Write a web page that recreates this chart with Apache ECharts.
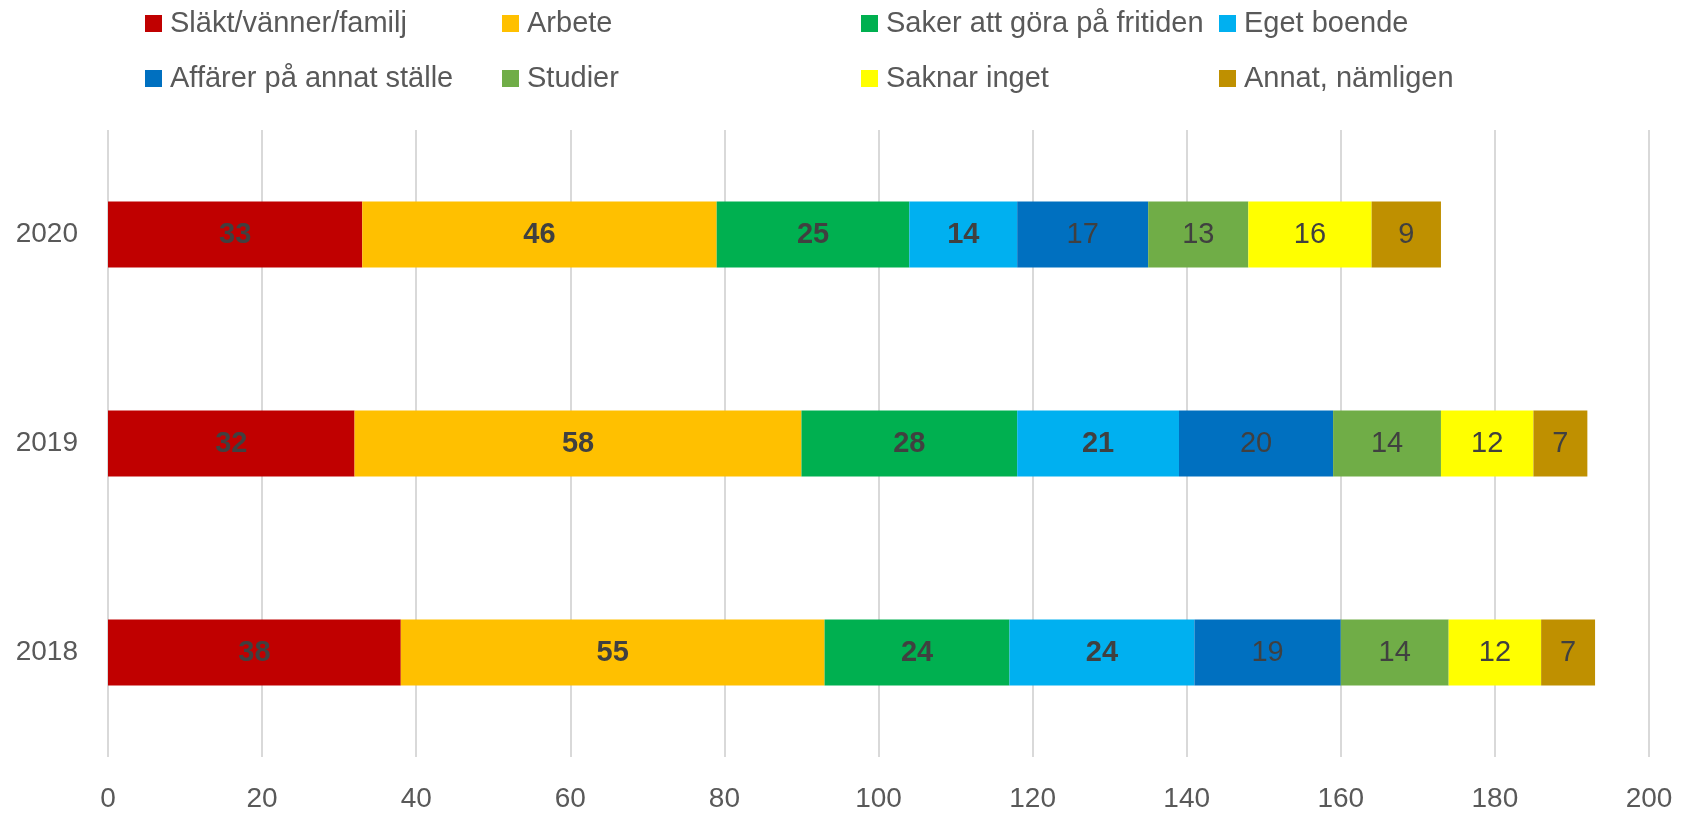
<!DOCTYPE html>
<html>
<head>
<meta charset="utf-8">
<script src="https://cdn.jsdelivr.net/npm/echarts@6/dist/echarts.min.js"></script>
<style>
  html, body { margin: 0; padding: 0; background: #fff; }
  #chart { width: 1682px; height: 813px; }
</style>
</head>
<body>
<div id="chart"></div>
<script>
// kategorier (nerifrån och upp)
const years = ['2018', '2019', '2020'];

// serier: värden för 2018, 2019, 2020
const slakt   = [38, 32, 33];
const arbete  = [55, 58, 46];
const saker   = [24, 28, 25];
const boende  = [24, 21, 14];
const affarer = [19, 20, 17];
const studier = [14, 14, 13];
const saknar  = [12, 12, 16];
const annat   = [7, 7, 9];

const seriesNames = ['Släkt/vänner/familj', 'Arbete', 'Saker att göra på fritiden', 'Eget boende',
  'Affärer på annat ställe', 'Studier', 'Saknar inget', 'Annat, nämligen'];
const seriesValues = [slakt, arbete, saker, boende, affarer, studier, saknar, annat];
const colors = ['#C00000', '#FFC000', '#00B050', '#00B0F0', '#0070C0', '#70AD47', '#FFFF00', '#BF9000'];
const boldLabels = [true, true, true, true, false, false, false, false];

const xTicks = { min: 0, max: 200, interval: 20 };

const FONT = '"Liberation Sans", Arial, sans-serif';

const chart = echarts.init(document.getElementById('chart'));

// en legend per kolumn, två rader var
const legendCols = [
  { left: 145, names: [seriesNames[0], seriesNames[4]] },
  { left: 502, names: [seriesNames[1], seriesNames[5]] },
  { left: 861, names: [seriesNames[2], seriesNames[6]] },
  { left: 1219, names: [seriesNames[3], seriesNames[7]] }
];

const option = {
  animation: false,
  legend: legendCols.map(c => ({
    orient: 'vertical',
    left: c.left,
    top: 9,
    padding: 0,
    itemGap: 26,
    itemWidth: 17,
    itemHeight: 17,
    icon: 'rect',
    data: c.names,
    selectedMode: false,
    textStyle: {
      fontFamily: FONT,
      fontSize: 29,
      lineHeight: 29,
      color: '#595959',
      padding: [0, 0, 0, 3]
    }
  })),
  grid: { left: 108, right: 33, top: 130, bottom: 56, containLabel: false },
  xAxis: {
    type: 'value',
    min: xTicks.min,
    max: xTicks.max,
    interval: xTicks.interval,
    axisLine: { show: false },
    axisTick: { show: false },
    splitLine: { lineStyle: { color: '#d9d9d9', width: 2 } },
    axisLabel: { fontFamily: FONT, fontSize: 28, color: '#595959', margin: 28 }
  },
  yAxis: {
    type: 'category',
    data: years,
    axisLine: { show: false },
    axisTick: { show: false },
    axisLabel: { fontFamily: FONT, fontSize: 28, color: '#595959', margin: 30 }
  },
  series: seriesNames.map((name, i) => ({
    name: name,
    type: 'bar',
    stack: 'total',
    barWidth: 66,
    data: seriesValues[i],
    itemStyle: { color: colors[i] },
    label: {
      show: true,
      position: 'inside',
      fontFamily: FONT,
      fontSize: 29,
      fontWeight: boldLabels[i] ? 'bold' : 'normal',
      color: '#404040'
    }
  }))
};

chart.setOption(option);
</script>
</body>
</html>
